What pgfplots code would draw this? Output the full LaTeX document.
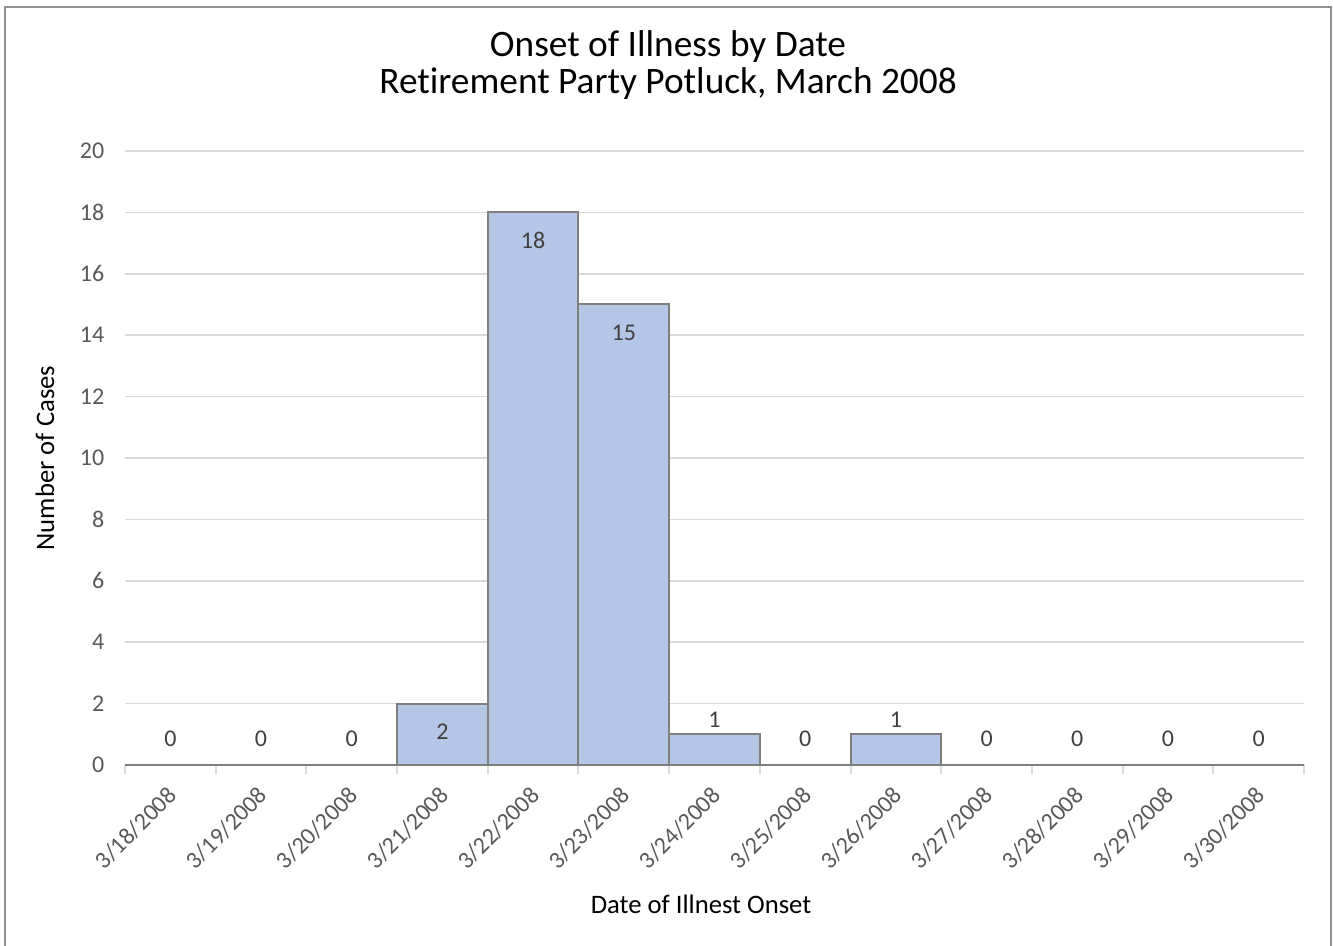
\documentclass[border=0pt]{standalone}
\usepackage{pgfplots}
\pgfplotsset{compat=1.18}
\usepackage{fontspec}
\setmainfont{Carlito}[Ligatures=NoCommon]
\definecolor{barfill}{HTML}{B4C7E7}
\definecolor{baredge}{HTML}{7F7F7F}
\definecolor{gridc}{HTML}{D9D9D9}
\definecolor{tickc}{HTML}{595959}
\definecolor{labc}{HTML}{404040}
\pgfplotstableread{
x y
0 0
1 0
2 0
3 2
4 18
5 15
6 1
7 0
8 1
9 0
10 0
11 0
12 0
}\cases
\pgfplotstableread{
x y
3 2
4 18
5 15
}\inside
\pgfplotstableread{
x y
6 1
8 1
}\outside
\pgfplotstableread{
x y
0 0
1 0
2 0
7 0
9 0
10 0
11 0
12 0
}\zeros
\begin{document}
\begin{tikzpicture}
\path[use as bounding box] (0pt,0pt) rectangle (999.75pt,708.75pt);
\draw[color=baredge!85,line width=1.5pt] (3.75pt,-5pt) -- (3.75pt,703.5pt) -- (998.25pt,703.5pt) -- (998.25pt,-5pt);
\node[align=center,font=\fontsize{28}{28}\selectfont,text=black] at (501pt,660pt) {Onset of Illness by Date\\Retirement Party Potluck, March 2008};
\begin{axis}[
  at={(93.75pt,135pt)}, anchor=south west,
  scale only axis, width=884.25pt, height=460.5pt,
  xmin=-0.5, xmax=12.5, ymin=0, ymax=20,
  xtick={0,...,12},
  xticklabels={3/18/2008,3/19/2008,3/20/2008,3/21/2008,3/22/2008,3/23/2008,3/24/2008,3/25/2008,3/26/2008,3/27/2008,3/28/2008,3/29/2008,3/30/2008},
  minor xtick={-0.5,0.5,...,12.5},
  ytick={0,2,...,20},
  axis x line*=bottom, axis y line*=left,
  x axis line style={draw=gridc,line width=1.5pt,-},
  y axis line style={draw=none},
  major tick length=0pt,
  minor tick length=7pt,
  tick align=outside,
  minor x tick style={draw=gridc,line width=1.5pt},
  ytick style={draw=none},
  ymajorgrids, grid style={draw=gridc,line width=1.2pt},
  /pgf/number format/assume math mode=true,
  tick label style={font=\fontsize{18}{20}\selectfont,text=tickc},
  yticklabel style={xshift=-12pt},
  xticklabel style={rotate=45,anchor=north east,xshift=-9.5pt,yshift=-5pt},
  xlabel={Date of Illnest Onset},
  ylabel={Number of Cases},
  every axis x label/.style={at={(axis description cs:0.4886,-0.2264)},anchor=center,font=\fontsize{20}{22}\selectfont,text=black},
  every axis y label/.style={at={(axis description cs:-0.0679,0.5)},rotate=90,anchor=center,font=\fontsize{20}{22}\selectfont,text=black},
  nodes near coords style={font=\fontsize{18}{20}\selectfont,text=labc,anchor=center},
  clip=false,
]
\addplot[ybar, bar width=1, bar shift=0pt, fill=barfill, draw=baredge, line width=1.5pt] table[x=x,y=y]{\cases};
\addplot[draw=none, mark=none, nodes near coords, every node near coord/.append style={yshift=-21pt}] table[x=x,y=y]{\inside};
\addplot[draw=none, mark=none, nodes near coords, every node near coord/.append style={yshift=11pt}] table[x=x,y=y]{\outside};
\addplot[draw=none, mark=none, nodes near coords, every node near coord/.append style={yshift=19.5pt}] table[x=x,y=y]{\zeros};
\end{axis}
\end{tikzpicture}
\end{document}
